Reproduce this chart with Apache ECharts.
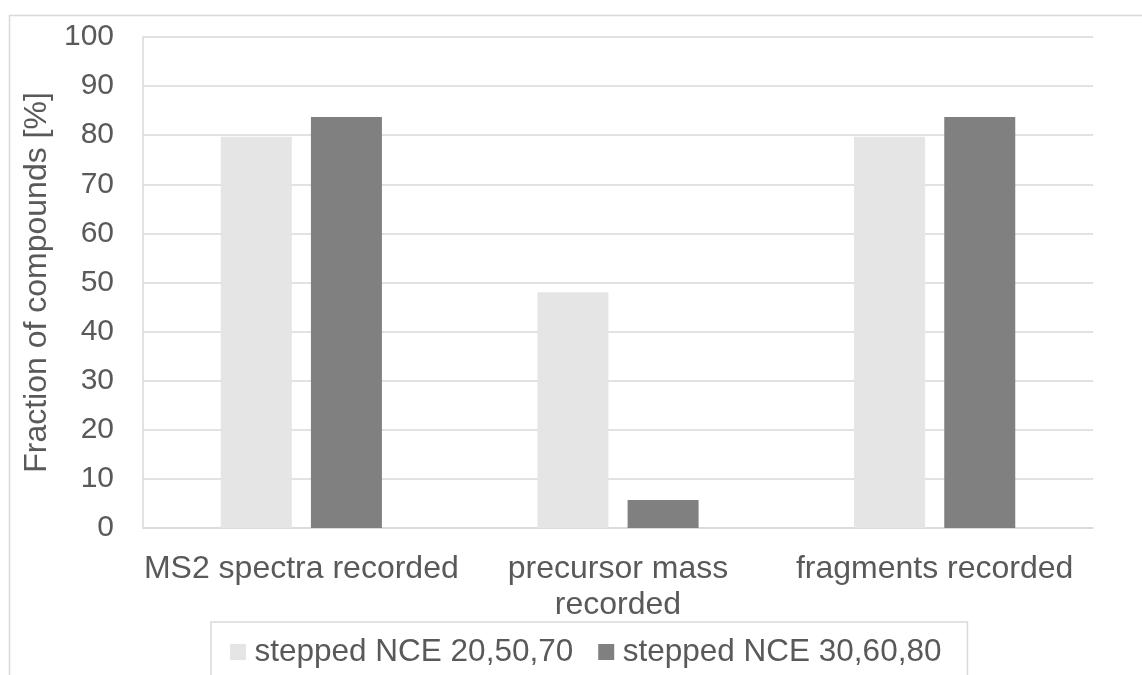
<!DOCTYPE html>
<html>
<head>
<meta charset="utf-8">
<script src="https://cdn.jsdelivr.net/npm/echarts@6/dist/echarts.min.js"></script>
<style>
html,body{margin:0;padding:0;background:#fff;}
#chart{width:1142px;height:675px;}
</style>
</head>
<body>
<div id="chart"></div>
<script>
// Share of compounds recovered under two stepped collision-energy settings
const categories = ['MS2 spectra recorded', 'precursor mass\nrecorded', 'fragments recorded'];
const nce205070 = [79.7, 48.0, 79.7];
const nce306080 = [83.7, 5.7, 83.7];
const seriesNames = ['stepped NCE 20,50,70', 'stepped NCE 30,60,80'];

const textColor = '#595959';
const lineColor = '#d9d9d9';
const fontFamily = 'Liberation Sans, Arial, sans-serif';

const chart = echarts.init(document.getElementById('chart'));
chart.setOption({
  animation: false,
  textStyle: { fontFamily: fontFamily },
  graphic: [{
    type: 'rect',
    shape: { x: 9.5, y: 15.5, width: 1200, height: 700 },
    style: { fill: 'none', stroke: lineColor, lineWidth: 1.5 },
    silent: true
  }],
  grid: { left: 143, right: 49, top: 37, bottom: 147 },
  legend: {
    data: seriesNames,
    left: 211,
    top: 622,
    itemWidth: 16,
    itemHeight: 16,
    itemGap: 25,
    padding: [14, 26, 12, 19],
    borderColor: lineColor,
    borderWidth: 1.5,
    textStyle: { color: textColor, fontSize: 31.5, fontFamily: fontFamily, padding: [0, 0, 0, 3.5] },
    icon: 'rect'
  },
  xAxis: {
    type: 'category',
    data: categories,
    axisLine: { lineStyle: { color: lineColor, width: 1.5 } },
    axisTick: { show: false },
    axisLabel: { color: textColor, fontSize: 32, margin: 23, lineHeight: 36, interval: 0 }
  },
  yAxis: {
    type: 'value',
    min: 0,
    max: 100,
    interval: 10,
    name: 'Fraction of compounds [%]',
    nameLocation: 'middle',
    nameGap: 88,
    nameTextStyle: { color: textColor, fontSize: 32 },
    axisLine: { show: true, lineStyle: { color: lineColor, width: 1.5 } },
    axisTick: { show: false },
    axisLabel: { color: textColor, fontSize: 30, margin: 29 },
    splitLine: { lineStyle: { color: lineColor, width: 1.5 } }
  },
  series: [
    { name: seriesNames[0], type: 'bar', data: nce205070, barWidth: 71, barGap: '27%',
      itemStyle: { color: '#e5e5e5' } },
    { name: seriesNames[1], type: 'bar', data: nce306080, barWidth: 71,
      itemStyle: { color: '#808080' } }
  ]
});
</script>
</body>
</html>
